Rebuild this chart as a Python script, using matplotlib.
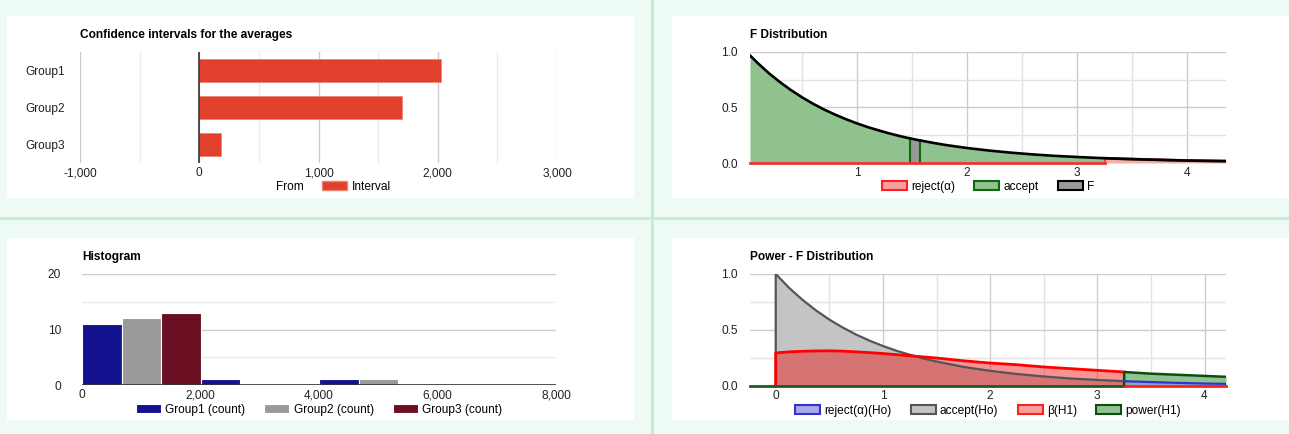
import numpy as np
import matplotlib
import matplotlib.pyplot as plt
from matplotlib.patches import Patch, Rectangle
from matplotlib.ticker import FuncFormatter, MultipleLocator

matplotlib.use('agg')
plt.rcParams['font.family'] = ['Liberation Sans', 'DejaVu Sans']
plt.rcParams['font.size'] = 8.6

# =============================================================================
# data
ci_groups = ['Group1', 'Group2', 'Group3']
ci_from = [0, 0, 0]
ci_interval = [2030, 1700, 180]

hist_bins = [0, 2000, 4000, 6000]
hist_g1 = [11, 1, 1, 0]
hist_g2 = [12, 0, 1, 0]
hist_g3 = [13, 0, 0, 0]
hist_labels = ['Group1 (count)', 'Group2 (count)', 'Group3 (count)']

# F distribution (pdf under Ho)
f_x = [0.03, 0.1, 0.2, 0.3, 0.4, 0.5, 0.6, 0.7, 0.8, 0.9, 1.0, 1.1, 1.2,
       1.3, 1.4, 1.48, 1.57, 1.7, 1.8, 2.0, 2.2, 2.4, 2.6, 2.8, 3.0, 3.25,
       3.4, 3.6, 3.8, 4.0, 4.2, 4.35]
f_pdf = [0.969, 0.900, 0.810, 0.730, 0.658, 0.593, 0.535, 0.483, 0.437,
         0.395, 0.357, 0.323, 0.293, 0.265, 0.240, 0.222, 0.204, 0.180,
         0.163, 0.135, 0.112, 0.093, 0.077, 0.064, 0.054, 0.043, 0.038,
         0.032, 0.027, 0.022, 0.019, 0.017]
f_crit = 3.25
f_stat = (1.48, 1.57)

# power chart: Ho and H1 densities
pw_x = [0, 0.125, 0.25, 0.375, 0.5, 0.625, 0.75, 0.875, 1.0, 1.125, 1.25,
        1.375, 1.5, 1.75, 2.0, 2.25, 2.5, 2.75, 3.0, 3.25, 3.5, 3.75, 4.0, 4.2]
pw_h0 = [1.0, 0.876, 0.769, 0.675, 0.593, 0.522, 0.459, 0.405, 0.357, 0.315,
         0.279, 0.246, 0.218, 0.171, 0.135, 0.107, 0.085, 0.067, 0.054, 0.043,
         0.035, 0.028, 0.022, 0.019]
pw_h1 = [0.295, 0.305, 0.31, 0.313, 0.314, 0.311, 0.305, 0.298, 0.29, 0.28,
         0.27, 0.26, 0.25, 0.225, 0.205, 0.19, 0.17, 0.155, 0.14, 0.125,
         0.11, 0.10, 0.09, 0.082]
pw_crit = 3.25
# =============================================================================

W, H = 1289, 434
fig = plt.figure(figsize=(W / 100, H / 100), dpi=100)
fig.patch.set_facecolor('#eefbf4')


def px_rect(x0, y0, x1, y1, color, z=-2):
    fig.add_artist(Rectangle((x0 / W, 1 - y1 / H), (x1 - x0) / W, (y1 - y0) / H,
                             transform=fig.transFigure, color=color, zorder=z, lw=0))


def px_axes(x0, y0, x1, y1):
    ax = fig.add_axes([x0 / W, 1 - y1 / H, (x1 - x0) / W, (y1 - y0) / H])
    ax.set_facecolor('white')
    for s in ax.spines.values():
        s.set_visible(False)
    ax.tick_params(which='both', length=0, colors='#222222', labelsize=8.6)
    return ax


# panels and dividers
px_rect(7, 16, 634, 198, 'white')
px_rect(672, 16, 1289, 198, 'white')
px_rect(7, 238, 634, 420, 'white')
px_rect(672, 238, 1289, 420, 'white')
px_rect(651, 0, 654, H, '#c3edd8', -1)
px_rect(0, 217, W, 220, '#c3edd8', -1)

comma = FuncFormatter(lambda v, p: '{:,.0f}'.format(v))
major_c, minor_c = '#cccccc', '#ebebeb'


def title(ax, txt, dy):
    ax.text(0, 1 + dy, txt, transform=ax.transAxes, fontsize=8.6,
            fontweight='bold', ha='left', va='center', color='black')


def legend(ax, handles, labels, y):
    ax.legend(handles, labels, loc='center', bbox_to_anchor=(0.5, y), ncol=len(handles),
              frameon=False, handlelength=2.1, handleheight=0.8, handletextpad=0.35,
              columnspacing=1.6, borderaxespad=0, fontsize=8.6)


# ---- confidence intervals ----
ax1 = px_axes(80, 52, 557, 163)
ypos = np.arange(len(ci_groups))
ax1.barh(ypos, ci_from, height=0.62, color='none')
ax1.barh(ypos, ci_interval, left=ci_from, height=0.62, color='#e0402c',
         edgecolor='#f08070', lw=0.5, zorder=3)
ax1.set_xlim(-1000, 3000)
ax1.set_ylim(2.5, -0.5)
ax1.set_yticks(ypos)
ax1.set_yticklabels(ci_groups)
ax1.xaxis.set_major_locator(MultipleLocator(1000))
ax1.xaxis.set_minor_locator(MultipleLocator(500))
ax1.xaxis.set_major_formatter(comma)
ax1.grid(axis='x', which='major', color=major_c, lw=1)
ax1.grid(axis='x', which='minor', color=minor_c, lw=1)
ax1.set_axisbelow(True)
ax1.axvline(0, color='#333333', lw=1.2, zorder=4)
ax1.tick_params(axis='x', pad=3)
ax1.tick_params(axis='y', pad=11)
title(ax1, 'Confidence intervals for the averages', 17 / 111)
legend(ax1, [Patch(facecolor='none', edgecolor='none'),
             Patch(facecolor='#e0402c', edgecolor='#f08070')],
       ['From', 'Interval'], -0.215)

# ---- F distribution ----
ax2 = px_axes(750, 52, 1226, 163)
fx = np.array(f_x)
fp = np.array(f_pdf)
green_fill, green_line = '#8fc28f', '#0b6a0b'
m1 = fx <= f_stat[0]
m2 = (fx >= f_stat[1]) & (fx <= f_crit)
m3 = (fx >= f_stat[0]) & (fx <= f_stat[1])
m4 = fx >= f_crit
ax2.fill_between(fx[m1], 0, fp[m1], color=green_fill, lw=0, zorder=2)
ax2.fill_between(fx[m2], 0, fp[m2], color=green_fill, lw=0, zorder=2)
ax2.fill_between(fx[m3], 0, fp[m3], color='#999999', lw=0, zorder=2)
ax2.fill_between(fx[m4], 0, fp[m4], color='#f4b0a8', lw=0, zorder=2)
for xv, yv in zip(fx[m3], fp[m3]):
    ax2.plot([xv, xv], [0, yv], color=green_line, lw=1.5, zorder=3)
ax2.plot([f_crit, f_crit], [0, fp[fx == f_crit][0]], color='#ee3333', lw=1.2, zorder=3)
ax2.plot([fx[0], f_crit], [0, 0], color='#ee3333', lw=2, zorder=4, clip_on=False)
ax2.plot(fx[m4], fp[m4], color='#8a3a2a', lw=2, zorder=4)
ax2.plot(fx, fp, color='black', lw=1.9, zorder=5, solid_joinstyle='round')
ax2.set_xlim(0.03, 4.35)
ax2.set_ylim(0, 1)
ax2.xaxis.set_major_locator(MultipleLocator(1))
ax2.xaxis.set_minor_locator(MultipleLocator(0.5))
ax2.yaxis.set_major_locator(MultipleLocator(0.5))
ax2.yaxis.set_minor_locator(MultipleLocator(0.25))
ax2.xaxis.set_major_formatter(FuncFormatter(lambda v, p: '{:.0f}'.format(v)))
ax2.yaxis.set_major_formatter(FuncFormatter(lambda v, p: '{:.1f}'.format(v)))
ax2.grid(which='major', color=major_c, lw=1)
ax2.grid(which='minor', color='#e3e3e3', lw=1)
ax2.set_axisbelow(True)
ax2.tick_params(axis='x', pad=3)
ax2.tick_params(axis='y', pad=9)
title(ax2, 'F Distribution', 17 / 111)
legend(ax2, [Patch(facecolor='#f8a0a0', edgecolor='#ff2020', lw=1.5),
             Patch(facecolor=green_fill, edgecolor=green_line, lw=1.5),
             Patch(facecolor='#999999', edgecolor='black', lw=1.5)],
       ['reject(\u03b1)', 'accept', 'F'], -0.215)

# ---- histogram ----
ax3 = px_axes(82, 274, 556, 385)
bw = 2000 / 3
hb = np.array(hist_bins)
for i, (vals, col) in enumerate(zip([hist_g1, hist_g2, hist_g3],
                                    ['#13138f', '#9a9a9a', '#6b0f22'])):
    ax3.bar(hb + i * bw, vals, width=bw, align='edge', color=col,
            edgecolor='white', lw=0.8, zorder=3, label=hist_labels[i])
ax3.set_xlim(0, 8000)
ax3.set_ylim(0, 20)
ax3.xaxis.set_major_locator(MultipleLocator(2000))
ax3.xaxis.set_major_formatter(comma)
ax3.yaxis.set_major_locator(MultipleLocator(10))
ax3.yaxis.set_minor_locator(MultipleLocator(5))
ax3.grid(axis='y', which='major', color=major_c, lw=1)
ax3.grid(axis='y', which='minor', color=minor_c, lw=1)
ax3.set_axisbelow(True)
ax3.axhline(0, color='#333333', lw=1.2, zorder=4)
ax3.tick_params(axis='x', pad=3)
ax3.tick_params(axis='y', pad=15)
title(ax3, 'Histogram', 17 / 111)
h3, l3 = ax3.get_legend_handles_labels()
legend(ax3, h3, l3, -0.225)

# ---- power ----
ax4 = px_axes(750, 274, 1226, 386)
px_ = np.array(pw_x)
h0 = np.array(pw_h0)
h1 = np.array(pw_h1)
acc = px_ <= pw_crit
rej = px_ >= pw_crit
ax4.fill_between(px_[acc], 0, h0[acc], color='#c4c4c4', lw=0, zorder=2)
ax4.fill_between(px_[acc], 0, h1[acc], color='#ee1111', alpha=0.45, lw=0, zorder=3)
ax4.fill_between(px_[rej], 0, h1[rej], color='#8fc38f', lw=0, zorder=2)
ax4.fill_between(px_[rej], 0, h0[rej], color='#8f8fe0', alpha=0.6, lw=0, zorder=3)
ax4.plot([-0.24, pw_crit], [0, 0], color='#1f5a1f', lw=2, zorder=4, clip_on=False)
ax4.plot([pw_crit, 4.2], [0, 0], color='#ff2020', lw=2, zorder=4, clip_on=False)
ax4.plot(np.r_[0, px_[acc]], np.r_[0, h0[acc]], color='#555555', lw=1.6, zorder=5)
ax4.plot(np.r_[0, px_[acc]], np.r_[0, h1[acc]], color='#ff0000', lw=2, zorder=6)
ax4.plot(np.r_[pw_crit, px_[rej]], np.r_[0, h1[rej]], color='#0d4d0d', lw=1.8, zorder=6)
ax4.plot(px_[rej], h0[rej], color='#3333cc', lw=1.6, zorder=6)
ax4.set_xlim(-0.24, 4.2)
ax4.set_ylim(0, 1)
ax4.xaxis.set_major_locator(MultipleLocator(1))
ax4.xaxis.set_minor_locator(MultipleLocator(0.5))
ax4.yaxis.set_major_locator(MultipleLocator(0.5))
ax4.yaxis.set_minor_locator(MultipleLocator(0.25))
ax4.xaxis.set_major_formatter(FuncFormatter(lambda v, p: '{:.0f}'.format(v)))
ax4.yaxis.set_major_formatter(FuncFormatter(lambda v, p: '{:.1f}'.format(v)))
ax4.grid(which='major', color=major_c, lw=1)
ax4.grid(which='minor', color='#e3e3e3', lw=1)
ax4.set_axisbelow(True)
ax4.tick_params(axis='x', pad=3)
ax4.tick_params(axis='y', pad=9)
title(ax4, 'Power - F Distribution', 17 / 112)
legend(ax4, [Patch(facecolor='#a8a8ee', edgecolor='#3333cc', lw=1.5),
             Patch(facecolor='#c4c4c4', edgecolor='#555555', lw=1.5),
             Patch(facecolor='#f8a0a0', edgecolor='#ff2020', lw=1.5),
             Patch(facecolor='#8fc38f', edgecolor='#0d4d0d', lw=1.5)],
       ['reject(\u03b1)(Ho)', 'accept(Ho)', '\u03b2(H1)', 'power(H1)'], -0.22)

fig.savefig('out.png', dpi=100, facecolor=fig.get_facecolor())
